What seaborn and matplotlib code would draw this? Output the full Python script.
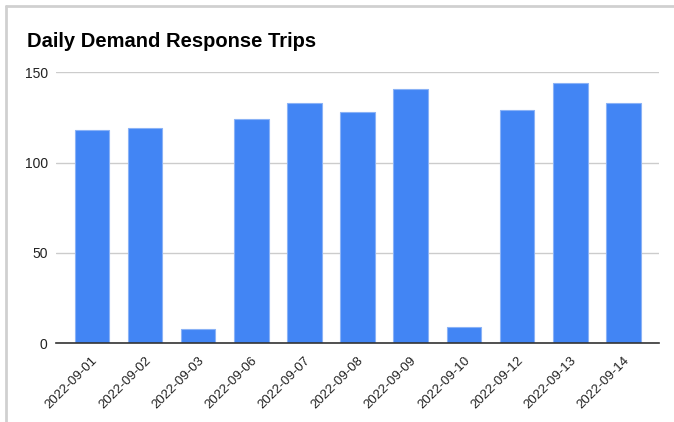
import numpy as np
import pandas as pd
import matplotlib
matplotlib.use("Agg")
import matplotlib.pyplot as plt
import matplotlib.transforms as mtransforms
from matplotlib.lines import Line2D
import seaborn as sns

# data
dates = ["2022-09-01", "2022-09-02", "2022-09-03", "2022-09-06", "2022-09-07",
         "2022-09-08", "2022-09-09", "2022-09-10", "2022-09-12", "2022-09-13",
         "2022-09-14"]
trips = [118, 119, 8, 124, 133, 128, 141, 9, 129, 144, 133]
y_ticks = [0, 50, 100, 150]

df = pd.DataFrame({"date": dates, "trips": trips})

sns.set_theme(style="white")
plt.rcParams["font.family"] = ["Liberation Sans", "DejaVu Sans"]

W, H = 674, 422
fig = plt.figure(figsize=(W / 100, H / 100), dpi=100)
ax = fig.add_axes([56 / W, 1 - 343.3 / H, (659 - 56) / W, (343.3 - 72.3) / H])

sns.barplot(data=df, x="date", y="trips", color="#4285F4", saturation=1,
            width=0.65, ax=ax, zorder=3, edgecolor="#8ab2f6", linewidth=0.8)

ax.set_ylim(0, 150)
ax.set_xlim(-0.674, 10.67)
ax.set_yticks(y_ticks)
ax.set_xlabel("")
ax.set_ylabel("")
for s in ["top", "right", "left"]:
    ax.spines[s].set_visible(False)
ax.spines["bottom"].set_color("#333333")
ax.spines["bottom"].set_linewidth(1.2)
ax.spines["bottom"].set_zorder(4)
ax.yaxis.grid(True, color="#cccccc", linewidth=1)
ax.set_axisbelow(True)

ax.tick_params(axis="y", length=0, pad=6, labelsize=10, labelcolor="#222222")
ax.tick_params(axis="x", length=0, pad=11, labelsize=9.5, labelcolor="#222222")
shift = mtransforms.ScaledTranslation(4 / 100, 0, fig.dpi_scale_trans)
for lab in ax.get_xticklabels():
    lab.set_rotation(45)
    lab.set_ha("right")
    lab.set_va("center")
    lab.set_rotation_mode("anchor")
    lab.set_transform(lab.get_transform() + shift)

fig.text(27 / W, 1 - 47 / H, "Daily Demand Response Trips", fontsize=14.5,
         fontweight="bold", color="#000000", ha="left", va="baseline")

# frame visible on the left and top edges
fig.add_artist(Line2D([6 / W, 6 / W], [0, 1 - 6 / H], color="#d0d0d0", linewidth=2))
fig.add_artist(Line2D([6 / W, 1], [1 - 6 / H, 1 - 6 / H], color="#d0d0d0", linewidth=2))

fig.savefig("out.png", dpi=100, facecolor="white")
